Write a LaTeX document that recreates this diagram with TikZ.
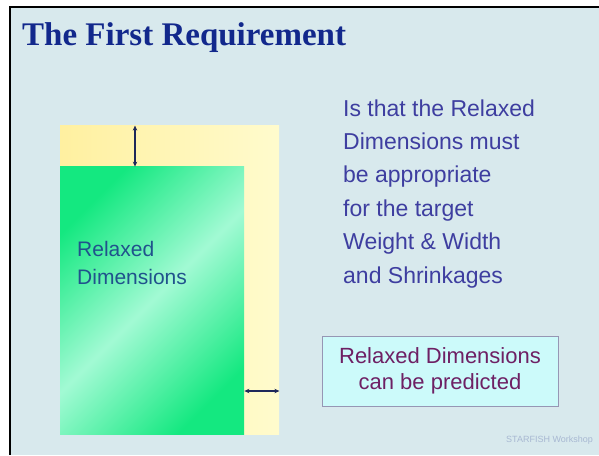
\documentclass[tikz,border=0pt]{standalone}
\usepackage{fontspec}
\setmainfont{Liberation Serif}
\newfontfamily\arialfont{Liberation Sans}
\usetikzlibrary{arrows.meta, positioning}

\definecolor{slidebg}{RGB}{216,233,237}
\definecolor{titleblue}{RGB}{18,40,140}
\definecolor{bodyblue}{RGB}{62,62,160}
\definecolor{labelblue}{RGB}{32,82,140}
\definecolor{notepurple}{RGB}{110,32,100}
\definecolor{notefill}{RGB}{204,250,250}
\definecolor{noteline}{RGB}{150,150,180}
\definecolor{greenedge}{RGB}{20,232,128}
\definecolor{greenmid}{RGB}{162,250,212}
\definecolor{yellowleft}{RGB}{255,240,160}
\definecolor{yellowright}{RGB}{255,251,205}
\definecolor{dimnavy}{RGB}{30,40,90}
\definecolor{footgray}{RGB}{168,184,210}

\begin{document}
\begin{tikzpicture}[
    x=1pt, y=-1pt,
    fabric/.style={rectangle, inner sep=0pt, anchor=south west, minimum width=219pt, minimum height=309pt, left color=yellowleft, right color=yellowright},
    relaxed/.style={rectangle, inner sep=0pt, anchor=south west, minimum width=184pt, minimum height=268pt, top color=greenedge, bottom color=greenedge, middle color=greenmid, shading angle=45},
    dimarrow/.style={line width=1.2pt, {Stealth[length=5pt,width=4.5pt]}-{Stealth[length=5pt,width=4.5pt]}, draw=dimnavy},
    bodytext/.style={align=left, inner sep=0pt, text=bodyblue, font=\arialfont\fontsize{23}{33.4}\selectfont},
    notebox/.style={rectangle, draw=noteline, fill=notefill, minimum width=236pt, minimum height=70pt, align=center, text=notepurple, font=\arialfont\fontsize{22}{26.5}\selectfont}
]
\useasboundingbox (0,0) rectangle (599,455);
\fill[white] (0,0) rectangle (599,455);
\fill[slidebg] (10,7) rectangle (599,455);
\draw[line width=2pt] (599,7) -- (10,7) -- (10,455);

\node (title) [anchor=base west, inner sep=0pt, text=titleblue, font=\fontsize{33}{36}\selectfont\bfseries] at (22,45) {The First Requirement};

\node (fabric) [fabric] at (60,435) {};
\node (relaxed) [relaxed] at (60,435) {};
\node (rlabel) [anchor=base west, inner sep=0pt, align=left, text=labelblue, font=\arialfont\fontsize{21}{27.5}\selectfont] at (77,284) {Relaxed\\Dimensions};

\coordinate (vdim) at (135,0);
\coordinate (hdim) at (0,391);
\draw [dimarrow] (fabric.north -| vdim) -- (relaxed.north -| vdim);
\draw [dimarrow] (relaxed.east |- hdim) -- (fabric.east |- hdim);

\node (reason) [bodytext, anchor=base west] at (343,283) {Is that the Relaxed\\Dimensions must\\be appropriate\\for the target\\Weight \& Width\\and Shrinkages};

\node (note) [notebox] at (440,371) {Relaxed Dimensions\\can be predicted};

\node (footer) [anchor=base west, inner sep=0pt, text=footgray, font=\arialfont\fontsize{9}{10}\selectfont] at (506,442) {STARFISH Workshop};
\end{tikzpicture}
\end{document}
